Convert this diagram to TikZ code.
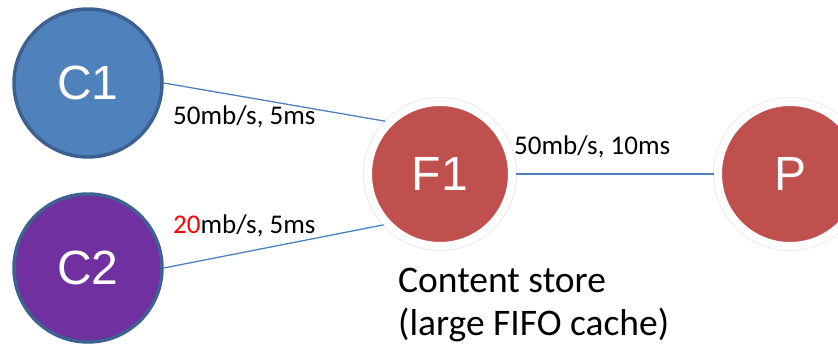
\documentclass[tikz,border=0pt]{standalone}
\usepackage{fontspec}
\setmainfont{Carlito}
\newfontfamily\arialf{Liberation Sans}
\definecolor{cborder}{HTML}{3E6192}
\definecolor{c1fill}{HTML}{4F81BD}
\definecolor{c2fill}{HTML}{7030A0}
\definecolor{rfill}{HTML}{C0504D}
\definecolor{linkc}{HTML}{4F81BD}
\begin{document}
\begin{tikzpicture}[x=1pt,y=-1pt,
  cnode/.style={circle, draw=cborder, line width=3.5pt, minimum size=148pt, inner sep=0pt,
    font=\arialf\fontsize{48}{48}\selectfont, text=white},
  rnode/.style={circle, fill=rfill, draw=white, line width=8pt, minimum size=144pt, inner sep=0pt,
    preaction={draw=black!8, line width=10pt},
    font=\arialf\fontsize{48}{48}\selectfont, text=white},
  link/.style={draw=linkc, line width=1.3pt},
  lbl/.style={anchor=base west, inner sep=0pt, font=\fontsize{27}{30}\selectfont}]
\useasboundingbox (0,0) rectangle (838,343);
\fill[white] (0,0) rectangle (838,343);
\node[cnode, fill=c1fill] (c1) at (88,83) {C1};
\node[cnode, fill=c2fill] (c2) at (88,268) {C2};
\node[rnode] (f1) at (440,174) {F1};
\node[rnode] (p) at (790,174) {P};
\draw[link] (c1.east) -- (f1.136);
\draw[link] (c2.east) -- (f1.222);
\draw[link] (f1.east) -- (p.west);
\node[lbl] (l1) at (173,124) {50mb/s, 5ms};
\node[lbl] (l2) at (173,233) {\textcolor{red}{20}mb/s, 5ms};
\node[lbl] (l3) at (514,154) {50mb/s, 10ms};
\node[anchor=base west, inner sep=0pt, align=left, font=\fontsize{37.5}{43}\selectfont] (cs) at (398,335) {Content store\\(large FIFO cache)};
\end{tikzpicture}
\end{document}
